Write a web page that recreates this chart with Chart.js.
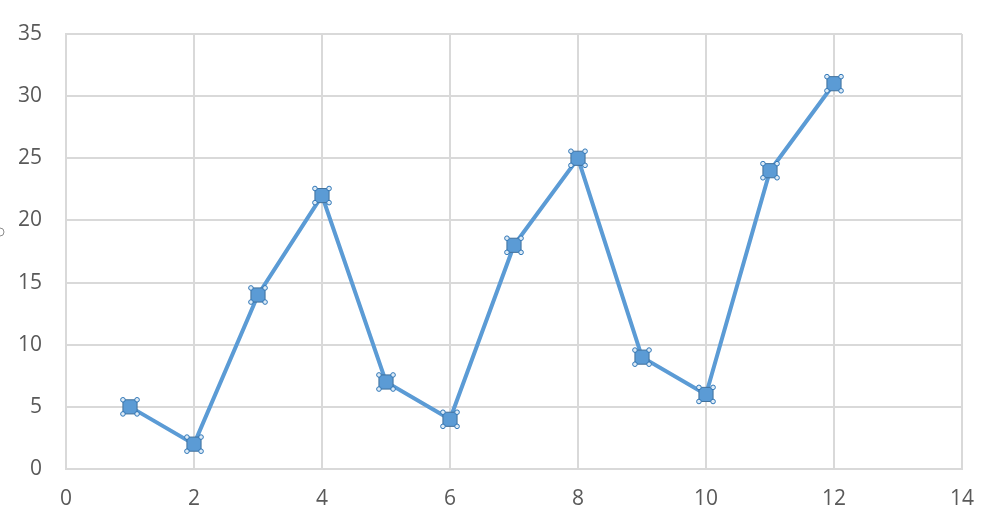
<!DOCTYPE html>
<html>
<head>
<meta charset="utf-8">
<script src="https://cdn.jsdelivr.net/npm/chart.js@4"></script>
<style>
  html, body { margin: 0; padding: 0; background: #fff; }
  #wrap { width: 993px; height: 522px; }
</style>
</head>
<body>
<div id="wrap"><canvas id="chart" width="993" height="522"></canvas></div>
<script>
// data
const xValues = [1, 2, 3, 4, 5, 6, 7, 8, 9, 10, 11, 12];
const yValues = [5, 2, 14, 22, 7, 4, 18, 25, 9, 6, 24, 31];
const xTicks = [0, 2, 4, 6, 8, 10, 12, 14];
const yTicks = [0, 5, 10, 15, 20, 25, 30, 35];

const points = xValues.map((x, i) => ({ x: x, y: yValues[i] }));

// small round handles on the corners of each marker (selected series look)
const handles = {
    id: "handles",
    afterDatasetsDraw(chart){
        const ctx = chart.ctx;
        const meta = chart.getDatasetMeta(0);
        ctx.save();
        ctx.lineWidth = 1;
        ctx.strokeStyle = "#2E75B6";
        ctx.fillStyle = "#DDEBF7";
        meta.data.forEach(pt => {
            const s = Math.SQRT1_2 * pt.options.radius;
            [[-s, -s], [s, -s], [-s, s], [s, s]].forEach(([dx, dy]) => {
                ctx.beginPath();
                ctx.arc(pt.x + dx, pt.y + dy, 2.3, 0, Math.PI * 2);
                ctx.fill();
                ctx.stroke();
            });
        });
        // chart area handle cut by the left edge
        ctx.strokeStyle = "#8C8C8C";
        ctx.fillStyle = "#fff";
        ctx.beginPath();
        ctx.arc(0, 232, 4, 0, Math.PI * 2);
        ctx.fill();
        ctx.stroke();
        ctx.restore();
    }
};

const tickFont = { family: "Open Sans", size: 21 };

new Chart(document.getElementById("chart"), {
    type: "scatter",
    data: {
        datasets: [{
            data: points,
            showLine: true,
            borderColor: "#5B9BD5",
            borderWidth: 4,
            pointStyle: "rect",
            pointRadius: 10,
            pointHoverRadius: 10,
            pointBackgroundColor: "#5B9BD5",
            pointBorderColor: "#41719C",
            pointBorderWidth: 1
        }]
    },
    options: {
        responsive: false,
        animation: false,
        layout: { padding: { top: 34, right: 31, left: 0, bottom: 0 } },
        plugins: { legend: { display: false }, tooltip: { enabled: false } },
        scales: {
            x: {
                type: "linear", min: 0, max: 14,
                afterBuildTicks: (axis) => { axis.ticks = xTicks.map(v => ({ value: v })); },
                afterFit: (axis) => { axis.height = 53; axis.paddingLeft = 0; axis.paddingRight = 0; },
                grid: { color: "#D9D9D9", lineWidth: 2, drawTicks: false },
                border: { color: "#D9D9D9", width: 2 },
                ticks: { color: "#595959", font: tickFont, padding: 17, maxRotation: 0 }
            },
            y: {
                type: "linear", min: 0, max: 35,
                afterBuildTicks: (axis) => { axis.ticks = yTicks.map(v => ({ value: v })); },
                afterFit: (axis) => { axis.width = 66; axis.paddingTop = 0; axis.paddingBottom = 0; },
                grid: { color: "#D9D9D9", lineWidth: 2, drawTicks: false },
                border: { color: "#D9D9D9", width: 2 },
                ticks: { color: "#595959", font: tickFont, padding: 24 }
            }
        }
    },
    plugins: [handles]
});
</script>
</body>
</html>
